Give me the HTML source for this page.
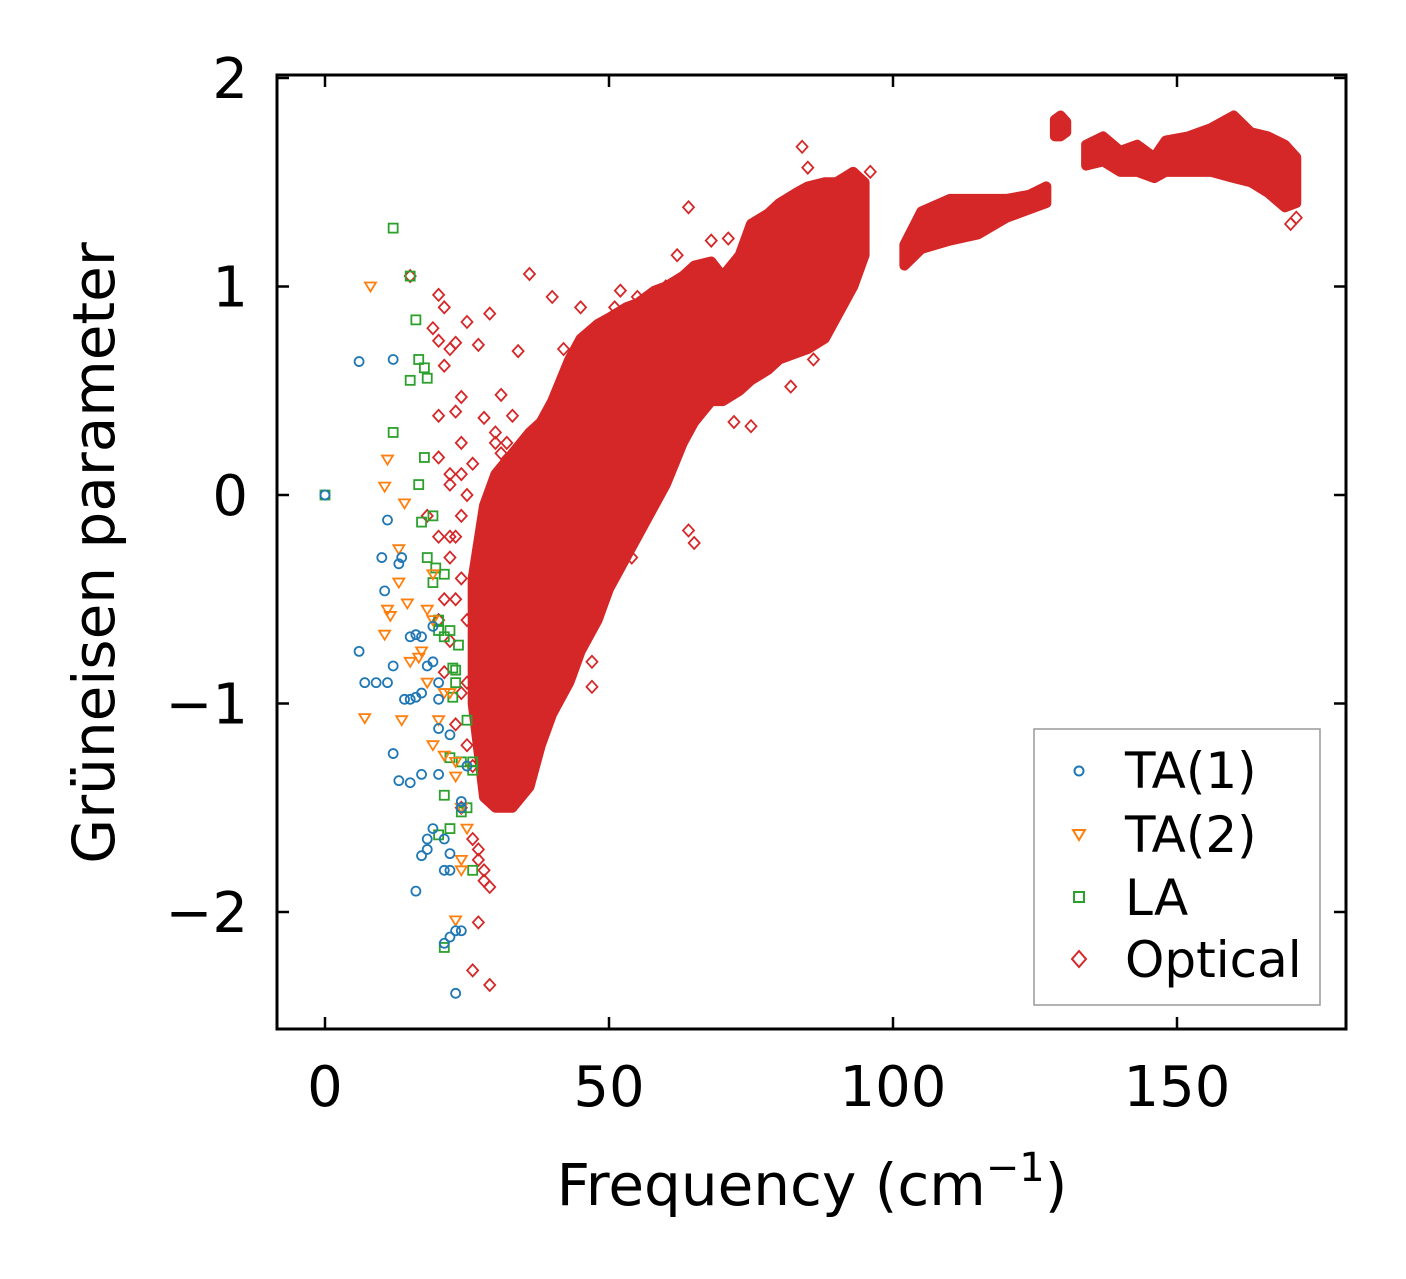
<!DOCTYPE html>
<html><head><meta charset="utf-8">
<style>
html,body{margin:0;padding:0;background:#fff;}
svg{display:block;font-family:"DejaVu Sans","Liberation Sans",sans-serif;}
</style></head>
<body>
<svg id="chart" width="1406" height="1279" viewBox="0 0 1406 1279" xmlns="http://www.w3.org/2000/svg">
<g id="marks"></g>
<rect x="277" y="75" width="1069" height="954" fill="none" stroke="#000" stroke-width="3"/>
<g id="ticks"></g>
<text x="812" y="1205" font-size="58" text-anchor="middle">Frequency (cm<tspan font-size="40" dy="-24">−1</tspan><tspan dy="24">)</tspan></text>
<text transform="translate(114,553) rotate(-90)" font-size="58" text-anchor="middle">Grüneisen parameter</text>
<g>
<rect x="1034" y="729" width="286" height="276" fill="#fff" stroke="#999" stroke-width="1.5"/>
<circle cx="1079" cy="771" r="4.5" fill="none" stroke="#1f77b4" stroke-width="2"/>
<text x="1125" y="788" font-size="50">TA(1)</text>
<path d="M1073,830 L1085,830 L1079,840 Z" fill="none" stroke="#ff7f0e" stroke-width="2"/>
<text x="1125" y="852" font-size="50">TA(2)</text>
<rect x="1074" y="892" width="10" height="10" fill="none" stroke="#2ca02c" stroke-width="2"/>
<text x="1125" y="915" font-size="50">LA</text>
<path d="M1079,951 L1086,959 L1079,967 L1072,959 Z" fill="none" stroke="#d62728" stroke-width="2"/>
<text x="1125" y="977" font-size="50">Optical</text>
</g>
</svg>
<script>
const xTicks=[0,50,100,150];
const yTicks=[-2,-1,0,1,2];
const yTickLabels=["−2","−1","0","1","2"];
const ta1X=[0,6,12,6,7,9,11,10,10.5,11,13,13.5,12,15,16,17,15,16,17,14,12,13,15,17,18,19,20,20,19,20,20,22,19,18,18,17,21,22,21,22,16,24,24,21,22,23,24,23,25];
const ta1Y=[0,0.64,0.65,-0.75,-0.9,-0.9,-0.9,-0.3,-0.46,-0.12,-0.33,-0.3,-0.82,-0.68,-0.67,-0.68,-0.98,-0.97,-0.95,-0.98,-1.24,-1.37,-1.38,-1.34,-0.82,-0.8,-0.98,-0.9,-0.63,-1.34,-1.12,-1.15,-1.6,-1.65,-1.7,-1.73,-1.65,-1.72,-1.8,-1.8,-1.9,-1.47,-1.5,-2.15,-2.12,-2.09,-2.09,-2.39,-1.3];
const ta2X=[8,11,10.5,14,13,13,11,11.5,14.5,10.5,15,17,16.5,7,13.5,18,19,18,19,21,22,20,23,23,24,24,24,23,25,19,21];
const ta2Y=[1.0,0.17,0.04,-0.04,-0.26,-0.42,-0.55,-0.58,-0.52,-0.67,-0.8,-0.75,-0.78,-1.07,-1.08,-0.9,-1.2,-0.55,-0.6,-1.25,-0.95,-1.08,-1.28,-1.35,-1.5,-1.75,-1.8,-2.04,-1.6,-0.38,-0.95];
const laX=[12,15,16,16.5,17.5,15,18,12,17.5,16.5,17,19,18,19,19.5,21,20,20,22,21,22.5,23,23,22.5,23.5,25,22,24,26,26,21,25,24,22,20,26,21,0];
const laY=[1.28,1.05,0.84,0.65,0.61,0.55,0.56,0.3,0.18,0.05,-0.13,-0.1,-0.3,-0.42,-0.35,-0.38,-0.6,-0.65,-0.65,-0.68,-0.83,-0.84,-0.9,-0.97,-0.72,-1.08,-1.26,-1.28,-1.28,-1.32,-1.44,-1.5,-1.52,-1.6,-1.63,-1.8,-2.17,0];
const optX=[15,36,20,21,25,29,27,19,20,22,23,21,20,23,24,28,31,34,33,24,20,22,26,30,18,20,22,21,20,25,26,27,27,28,29,27,26,29,28,24,64,47,47,64,65,44,54,40,35,32,60,45,55,52,62,68,71,75,84,85,82,86,72,75,60,42,40,51,170,171,129,96,22,23,24,25,23,24,22,25,21,24,23,25,26,22,24,30,32,31];
const optY=[1.05,1.06,0.96,0.9,0.83,0.87,0.72,0.8,0.74,0.7,0.73,0.62,0.38,0.4,0.47,0.37,0.48,0.69,0.38,0.25,0.18,0.1,0.15,0.25,-0.1,-0.2,-0.2,-0.5,-0.6,-0.9,-1.65,-1.7,-1.75,-1.8,-1.88,-2.05,-2.28,-2.35,-1.85,-1.5,1.38,-0.8,-0.92,-0.17,-0.23,-0.42,-0.3,-0.8,-1.2,-1.48,0.07,0.9,0.95,0.98,1.15,1.22,1.23,1.25,1.67,1.57,0.52,0.65,0.35,0.33,1.0,0.7,0.95,0.9,1.3,1.33,1.8,1.55,-0.3,-0.2,-0.1,0.0,-0.5,-0.4,-0.7,-0.6,-0.85,-0.95,-1.1,-1.2,-1.3,0.05,0.1,0.3,0.25,0.2];
// dense optical cloud envelopes (frequency, lowest, highest gamma)
const band1X=[26,28,30,33,36,38,40,43,45,48,50,53,55,58,60,63,65,68,70,73,75,78,80,83,85,88,90,93,95];
const band1Lo=[-1.0,-1.45,-1.5,-1.5,-1.4,-1.2,-1.05,-0.9,-0.75,-0.6,-0.45,-0.3,-0.2,-0.05,0.05,0.25,0.35,0.45,0.45,0.5,0.55,0.6,0.65,0.68,0.7,0.75,0.85,1.0,1.15];
const band1Hi=[-0.4,-0.05,0.1,0.2,0.3,0.35,0.45,0.65,0.75,0.82,0.85,0.9,0.92,0.98,1.0,1.05,1.1,1.12,1.05,1.15,1.3,1.35,1.4,1.45,1.48,1.5,1.5,1.55,1.5];
const band2X=[102,105,110,115,120,124,127];
const band2Lo=[1.1,1.18,1.22,1.25,1.33,1.37,1.4];
const band2Hi=[1.2,1.36,1.42,1.42,1.42,1.44,1.48];
const band3X=[128.5,129.5,130.5];
const band3Lo=[1.72,1.72,1.74];
const band3Hi=[1.8,1.82,1.79];
const band4X=[134,137,140,143,146,148,152,156,160,163,166,169,171];
const band4Lo=[1.58,1.6,1.55,1.55,1.52,1.55,1.55,1.55,1.52,1.5,1.45,1.38,1.4];
const band4Hi=[1.68,1.72,1.65,1.68,1.62,1.7,1.72,1.76,1.82,1.74,1.72,1.68,1.62];

const NS="http://www.w3.org/2000/svg";
function xs(v){return 325+v*(893-325)/100;}
function ys(v){return 495-v*((909-75)/4);}
const marks=document.getElementById('marks');
const ticks=document.getElementById('ticks');
function mk(tag,attrs){const e=document.createElementNS(NS,tag);for(const k in attrs)e.setAttribute(k,attrs[k]);return e;}

function band(X,Lo,Hi,name){
  let pts=[];
  for(let i=0;i<X.length;i++)pts.push(xs(X[i])+','+ys(Hi[i]));
  for(let i=X.length-1;i>=0;i--)pts.push(xs(X[i])+','+ys(Lo[i]));
  const p=mk('polygon',{points:pts.join(' '),fill:'#d62728',stroke:'#d62728','stroke-width':10,'stroke-linejoin':'round'});
  
  
  marks.appendChild(p);
}
band(band1X,band1Lo,band1Hi,'optical-dense-band');
band(band2X,band2Lo,band2Hi,'optical-band-high');
band(band3X,band3Lo,band3Hi,'optical-band-peak');
band(band4X,band4Lo,band4Hi,'optical-band-top');

for(let i=0;i<optX.length;i++){
  const cx=xs(optX[i]),cy=ys(optY[i]);
  const p=mk('path',{d:`M${cx},${cy-6} L${cx+5.5},${cy} L${cx},${cy+6} L${cx-5.5},${cy} Z`,fill:'none',stroke:'#d62728','stroke-width':1.8});
  
  
  marks.appendChild(p);
}
for(let i=0;i<laX.length;i++){
  const cx=xs(laX[i]),cy=ys(laY[i]);
  const p=mk('rect',{x:cx-4.5,y:cy-4.5,width:9,height:9,fill:'none',stroke:'#2ca02c','stroke-width':1.8});
  
  
  marks.appendChild(p);
}
for(let i=0;i<ta2X.length;i++){
  const cx=xs(ta2X[i]),cy=ys(ta2Y[i]);
  const p=mk('path',{d:`M${cx-5.5},${cy-4} L${cx+5.5},${cy-4} L${cx},${cy+5} Z`,fill:'none',stroke:'#ff7f0e','stroke-width':1.8});
  
  
  marks.appendChild(p);
}
for(let i=0;i<ta1X.length;i++){
  const p=mk('circle',{cx:xs(ta1X[i]),cy:ys(ta1Y[i]),r:4.5,fill:'none',stroke:'#1f77b4','stroke-width':1.8});
  
  
  marks.appendChild(p);
}

xTicks.forEach(v=>{
  const x=xs(v);
  ticks.appendChild(mk('line',{x1:x,y1:1029,x2:x,y2:1017,stroke:'#000','stroke-width':2.5}));
  ticks.appendChild(mk('line',{x1:x,y1:75,x2:x,y2:87,stroke:'#000','stroke-width':2.5}));
  const t=mk('text',{x:x,y:1106,'font-size':56,'text-anchor':'middle'});
  t.textContent=String(v);
  
  
  ticks.appendChild(t);
});
yTicks.forEach((v,i)=>{
  const y=ys(v);
  ticks.appendChild(mk('line',{x1:277,y1:y,x2:289,y2:y,stroke:'#000','stroke-width':2.5}));
  ticks.appendChild(mk('line',{x1:1346,y1:y,x2:1334,y2:y,stroke:'#000','stroke-width':2.5}));
  const t=mk('text',{x:248,y:y+20,'font-size':56,'text-anchor':'end'});
  t.textContent=yTickLabels[i];
  
  
  ticks.appendChild(t);
});
</script>
</body></html>
